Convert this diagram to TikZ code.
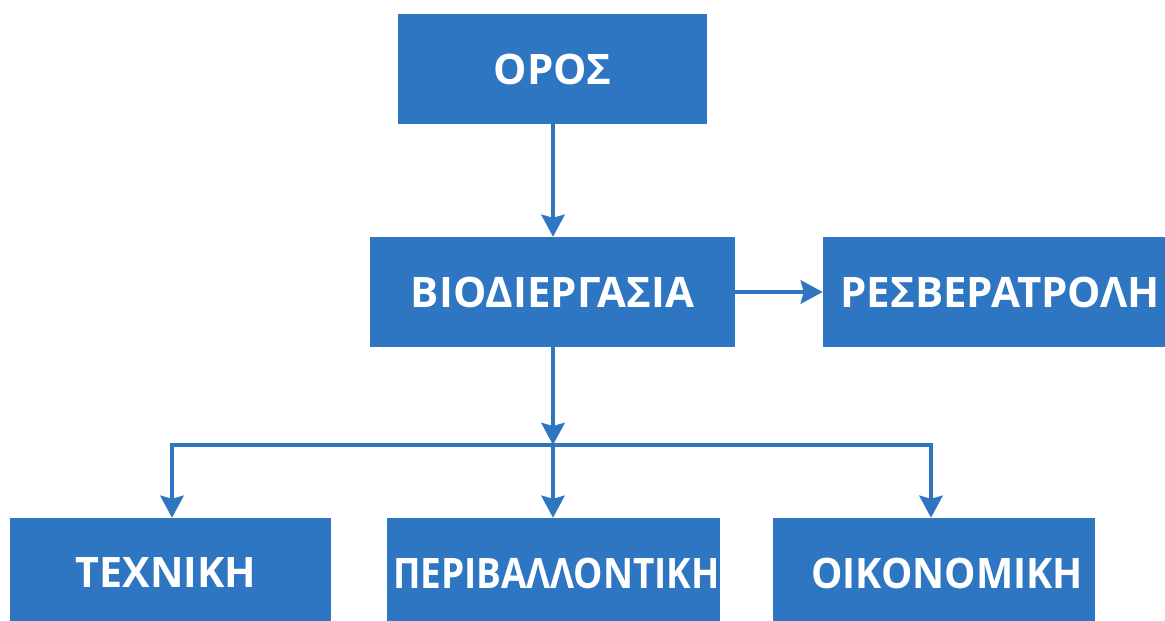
\documentclass[tikz,border=0pt]{standalone}
\usepackage{fontspec}
\setmainfont{Open Sans}[BoldFont={* Bold}]
\usetikzlibrary{arrows.meta}
\definecolor{boxblue}{RGB}{46,117,194}
\begin{document}
\begin{tikzpicture}[x=1pt,y=-1pt,
  box/.style={fill=boxblue, draw=none, inner sep=0pt, text=white,
    minimum height=110pt, font=\fontsize{42}{50}\selectfont\bfseries},
  conn/.style={draw=boxblue, line width=4.5pt,
    -{Stealth[length=22pt,width=23pt,inset=3pt]}}]
\useasboundingbox (0,0) rectangle (1165,621);
\node[box, minimum width=309pt] (oros) at (552.5,69) {ΟΡΟΣ};
\node[box, minimum width=365pt] (bio) at (552.5,292) {ΒΙΟΔΙΕΡΓΑΣΙΑ};
\node[box, minimum width=354pt] (res) at (1000,292) {ΡΕΣΒΕΡΑΤΡΟΛΗ};
\node[box, minimum width=321pt] (tech) at (170.5,573) {\scalebox{0.98}[1]{ΤΕΧΝΙΚΗ}\hspace*{9pt}};
\node[box, minimum width=333pt] (peri) at (553.5,573) {\hspace*{6pt}\scalebox{0.88}[1]{ΠΕΡΙΒΑΛΛΟΝΤΙΚΗ}};
\node[box, minimum width=322pt] (oiko) at (934,573) {\hspace*{26pt}\scalebox{0.94}[1]{ΟΙΚΟΝΟΜΙΚΗ}};
\coordinate (j) at (553,445);
\draw[conn] (oros.south -| 553,0) -- (bio.north -| 553,0);
\draw[conn] (bio.east) -- (res.west);
\draw[conn] (bio.south -| 553,0) -- (j);
\draw[conn] (j) -| (tech.north -| 172,0);
\draw[conn] (j) -| (oiko.north -| 931,0);
\draw[conn] (j) -- (peri.north -| j);
\end{tikzpicture}
\end{document}
